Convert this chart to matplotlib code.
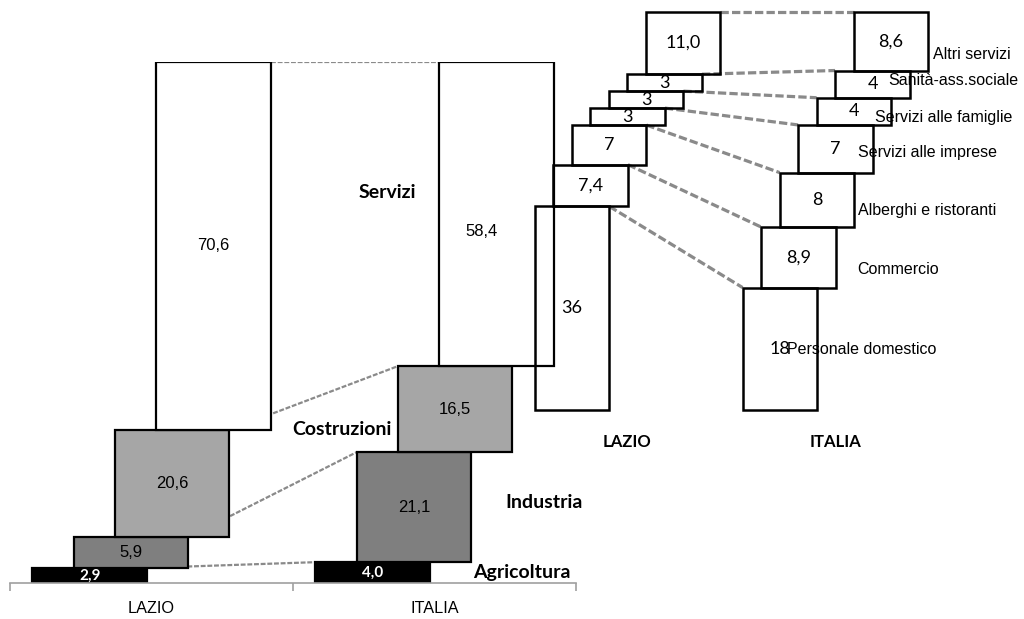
import matplotlib
matplotlib.use("Agg")
import matplotlib.pyplot as plt
from matplotlib.patches import Rectangle

# ---------------- data ----------------
regions = ["LAZIO", "ITALIA"]
sectors = ["Agricoltura", "Industria", "Costruzioni", "Servizi"]
lazio_sect = [2.9, 5.9, 20.6, 70.6]
italia_sect = [4.0, 21.1, 16.5, 58.4]

serv_cats = ["Personale domestico", "Commercio", "Alberghi e ristoranti",
             "Servizi alle imprese", "Servizi alle famiglie",
             "Sanità-ass.sociale", "Altri servizi"]
lazio_serv = [36, 7.4, 7, 3, 3, 3, 11.0]
italia_serv = [18, 8.9, 8, 7, 4, 4, 8.6]
lazio_serv_lbl = ["36", "7,4", "7", "3", "3", "3", "11,0"]
italia_serv_lbl = ["18", "8,9", "8", "7", "4", "4", "8,6"]

# ---------------- style ----------------
sector_colors = ["#000000", "#7f7f7f", "#a6a6a6", "#ffffff"]
ARIAL = "Liberation Sans"
CALIBRI = "Lato"
DASH_GREY = "#8a8a8a"

fig = plt.figure(figsize=(10.24, 6.19), dpi=100)
fig.patch.set_facecolor("white")

def fmt(v):
    return f"{v:.1f}".replace(".", ",")

# ---------------- main chart ----------------
ax = fig.add_axes([10 / 1024, 36 / 619, 566 / 1024, 521 / 619])
ax.set_xlim(-0.5, 1.5)
ax.set_ylim(0, 100)
W, S = 0.406, 0.145
n = len(sectors)
offs = [(i - (n - 1) / 2) * S for i in range(n)]


def geom(vals, center, offsets, width, total=None):
    out, b = [], 0.0
    scale = 100.0 / total if total else 1.0
    for i, v in enumerate(vals):
        h = v * scale
        out.append((center + offsets[i] - width / 2, b, width, h))
        b += h
    return out


gl = geom(lazio_sect, 0, offs, W)
gi = geom(italia_sect, 1, offs, W)

for i in range(n):
    x0, y0 = gl[i][0] + W, gl[i][1] + gl[i][3]
    x1, y1 = gi[i][0], gi[i][1] + gi[i][3]
    ax.plot([x0, x1], [y0, y1], color=DASH_GREY, lw=1.6,
            ls=(0, (2.2, 0.8)), zorder=1, solid_capstyle="butt")

for geo, vals in ((gl, lazio_sect), (gi, italia_sect)):
    for i, (x, y, w, h) in enumerate(geo):
        ax.add_patch(Rectangle((x, y), w, h, facecolor=sector_colors[i],
                               edgecolor="black", lw=1.6, zorder=2))
        cx, cy = x + w / 2, y + h / 2
        if i == 0:
            ax.text(cx, cy, fmt(vals[i]), ha="center", va="center",
                    color="white", fontsize=11, fontweight="bold",
                    family=CALIBRI, zorder=3)
        else:
            if geo is gi and i == 3:
                cx, cy = cx - 0.05, cy - 3.3
            ax.text(cx, cy, fmt(vals[i]), ha="center", va="center",
                    color="black", fontsize=12, family=ARIAL, zorder=3)

# sector names
ax.text(0.832, 75.0, "Servizi", ha="center", va="center", fontsize=14,
        fontweight="bold", family=CALIBRI)
ax.text(0.850, 29.4, "Costruzioni", ha="right", va="center", fontsize=14,
        fontweight="bold", family=CALIBRI)
ax.text(1.25, 15.4, "Industria", ha="left", va="center", fontsize=14,
        fontweight="bold", family=CALIBRI)
ax.text(1.135, 2.1, "Agricoltura", ha="left", va="center", fontsize=14,
        fontweight="bold", family=CALIBRI)

for s in ("top", "right", "left"):
    ax.spines[s].set_visible(False)
ax.spines["bottom"].set_color("#a0a0a0")
ax.spines["bottom"].set_linewidth(1.2)
ax.set_yticks([])
ax.set_xticks([0, 1])
ax.set_xticklabels(regions, family=ARIAL, fontsize=11.7)
ax.tick_params(axis="x", which="major", length=0, pad=13)
ax.set_xticks([-0.5, 0.5, 1.5], minor=True)
ax.tick_params(axis="x", which="minor", length=6, width=1.2, color="#a0a0a0")
ax.patch.set_alpha(0)

# ---------------- services inset (100% stacked) ----------------
ax2 = fig.add_axes([523.5 / 1024, 209 / 619, 416 / 1024, 398 / 619])
ax2.set_xlim(-0.5, 1.5)
ax2.set_ylim(0, 100)
ax2.patch.set_alpha(0)
W2, S2 = 0.36, 0.089
m = len(serv_cats)
offs2 = [(i - (m - 1) / 2) * S2 for i in range(m)]
sl = geom(lazio_serv, 0, offs2, W2, total=sum(lazio_serv))
si = geom(italia_serv, 1, offs2, W2, total=sum(italia_serv))

for i in range(m):
    x0, y0 = sl[i][0] + W2, sl[i][1] + sl[i][3]
    x1, y1 = si[i][0], si[i][1] + si[i][3]
    ax2.plot([x0, x1], [y0, y1], color=DASH_GREY, lw=2.3,
             ls=(0, (2.6, 1.0)), zorder=1, clip_on=False)

for geo, lbls in ((sl, lazio_serv_lbl), (si, italia_serv_lbl)):
    for i, (x, y, w, h) in enumerate(geo):
        ax2.add_patch(Rectangle((x, y), w, h, facecolor="none",
                                edgecolor="black", lw=1.8, zorder=2,
                                clip_on=False))
        ax2.text(x + w / 2, y + h / 2, lbls[i], ha="center", va="center",
                 fontsize=13, family=CALIBRI, zorder=3, clip_on=False)

# category names next to the Italia column
name_x = [0.767, 1.103, 1.108, 1.108, 1.19, 1.252, 1.469]
name_y = [15.1, 35.2, 50.0, 64.8, 73.6, 82.9, 89.2]
for nm, xx, yy in zip(serv_cats, name_x, name_y):
    ax2.text(xx, yy, nm, ha="left", va="center", fontsize=11.5,
             family=ARIAL, zorder=4, clip_on=False)

for s in ax2.spines.values():
    s.set_visible(False)
ax2.set_yticks([])
ax2.set_xticks([0, 1])
ax2.set_xticklabels(regions, family=CALIBRI, fontsize=12, fontweight="bold")
ax2.tick_params(axis="x", length=0, pad=17)

fig.savefig("out.png", dpi=100, facecolor="white")
